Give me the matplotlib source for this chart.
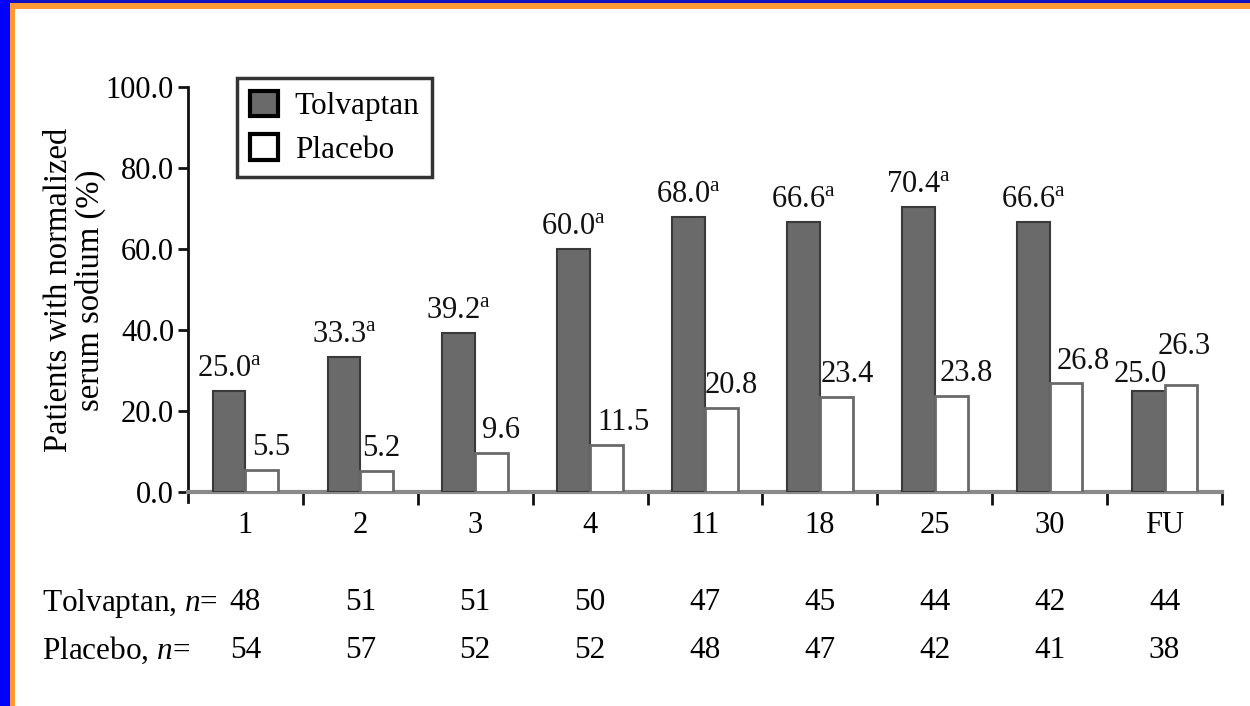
import matplotlib
matplotlib.use("Agg")
import matplotlib.pyplot as plt
from matplotlib.patches import Rectangle, Patch

# ---- data ----
categories = ["1", "2", "3", "4", "11", "18", "25", "30", "FU"]
tolvaptan = [25.0, 33.3, 39.2, 60.0, 68.0, 66.6, 70.4, 66.6, 25.0]
placebo = [5.5, 5.2, 9.6, 11.5, 20.8, 23.4, 23.8, 26.8, 26.3]
tol_significant = [True, True, True, True, True, True, True, True, False]
n_tolvaptan = [48, 51, 51, 50, 47, 45, 44, 42, 44]
n_placebo = [54, 57, 52, 52, 48, 47, 42, 41, 38]
y_ticks = [0, 20, 40, 60, 80, 100]

# label nudges in pixels (dx, dy above bar top)
tol_nudge = [(0, 15)] * 8 + [(-8, 9)]
pla_nudge = [(9, 15), (4, 15), (9, 15), (17, 15), (10, 15),
             (11, 15), (15, 15), (17, 14), (3, 31)]

SERIF = "Liberation Serif"
plt.rcParams["font.family"] = SERIF
plt.rcParams["mathtext.fontset"] = "custom"
plt.rcParams["mathtext.rm"] = SERIF
plt.rcParams["mathtext.it"] = SERIF + ":italic"

FS = 22

W, H = 1250, 706
fig = plt.figure(figsize=(W / 100, H / 100), dpi=100)
fig.patch.set_facecolor("white")

# slide frame: blue + orange strips on left and top
def px_rect(x0, y0, w, h, color):
    fig.add_artist(Rectangle((x0 / W, 1 - (y0 + h) / H), w / W, h / H,
                             transform=fig.transFigure, color=color, lw=0, zorder=0))

px_rect(0, 0, W, 3, "#1010c0")
px_rect(0, 3, W, 6, "#ff9933")
px_rect(0, 0, 10, H, "#0000ff")
px_rect(10, 3, 5, H, "#ff9933")

ax = fig.add_axes([188 / W, 214 / H, 1034 / W, 405 / H])
ax.set_xlim(0, len(categories))
ax.set_ylim(0, 100)

bw = 0.285
xs = [i + 0.5 for i in range(len(categories))]
ax.bar([x - bw for x in xs], tolvaptan, width=bw, align="edge",
       color="#6a6a6a", edgecolor="#3a3a3a", linewidth=1.5, zorder=3)
ax.bar(xs, placebo, width=bw, align="edge",
       color="white", edgecolor="#6a6a6a", linewidth=2, zorder=3)

for i, x in enumerate(xs):
    v = tolvaptan[i]
    txt = f"{v:.1f}" + (r"$^{\mathrm{a}}$" if tol_significant[i] else "")
    dx, dy = tol_nudge[i]
    ax.annotate(txt, (x - bw / 2, v), xytext=(dx, dy), textcoords="offset pixels",
                ha="center", va="baseline", fontsize=FS, color="#111111")
    v = placebo[i]
    dx, dy = pla_nudge[i]
    ax.annotate(f"{v:.1f}", (x + bw / 2, v), xytext=(dx, dy), textcoords="offset pixels",
                ha="center", va="baseline", fontsize=FS, color="#111111")

# axes styling
for side in ("top", "right"):
    ax.spines[side].set_visible(False)
ax.spines["left"].set_color("#111111")
ax.spines["left"].set_linewidth(2)
ax.spines["left"].set_bounds(-2.5, 100)
ax.spines["bottom"].set_color("#8a8a8a")
ax.spines["bottom"].set_linewidth(3)

ax.set_yticks(y_ticks)
ax.set_yticklabels([f"{t:.1f}" for t in y_ticks], fontsize=FS)
ax.tick_params(axis="y", direction="out", length=7, width=2, pad=3, color="#111111")

ax.set_xticks(range(1, len(categories) + 1))
ax.set_xticklabels([])
ax.tick_params(axis="x", which="major", direction="out", length=9, width=2, color="#111111")
ax.set_xticks(xs, minor=True)
ax.set_xticklabels(categories, minor=True, fontsize=FS)
ax.tick_params(axis="x", which="minor", length=0, pad=14)

fig.text(75 / W, 1 - 290 / H, "Patients with normalized\nserum sodium (%)",
         rotation=90, ha="center", va="center", fontsize=23.5, linespacing=1.05,
         multialignment="center")

# sample size rows
for row_y, label, counts in ((603, r"Tolvaptan, $\mathit{n}$=", n_tolvaptan),
                             (650, r"Placebo, $\mathit{n}$=", n_placebo)):
    fig.text(42 / W, 1 - row_y / H, label, ha="left", va="center", fontsize=22.5)
    for x, c in zip(xs, counts):
        xf = ax.transData.transform((x, 0))[0] / W
        fig.text(xf, 1 - row_y / H, str(c), ha="center", va="center", fontsize=22.5)

handles = [Patch(facecolor="#6a6a6a", edgecolor="black", linewidth=3, label="Tolvaptan"),
           Patch(facecolor="white", edgecolor="black", linewidth=3, label="Placebo")]
leg = fig.legend(handles=handles, loc="upper left", bbox_to_anchor=(237 / W, 1 - 78 / H),
                 fontsize=22.5, frameon=True, fancybox=False, handlelength=0.9,
                 handleheight=0.9, handletextpad=0.55, labelspacing=0.4,
                 borderpad=0.4, borderaxespad=0)
leg.get_frame().set_edgecolor("black")
leg.get_frame().set_linewidth(2.5)

fig.savefig("out.png", dpi=100)
